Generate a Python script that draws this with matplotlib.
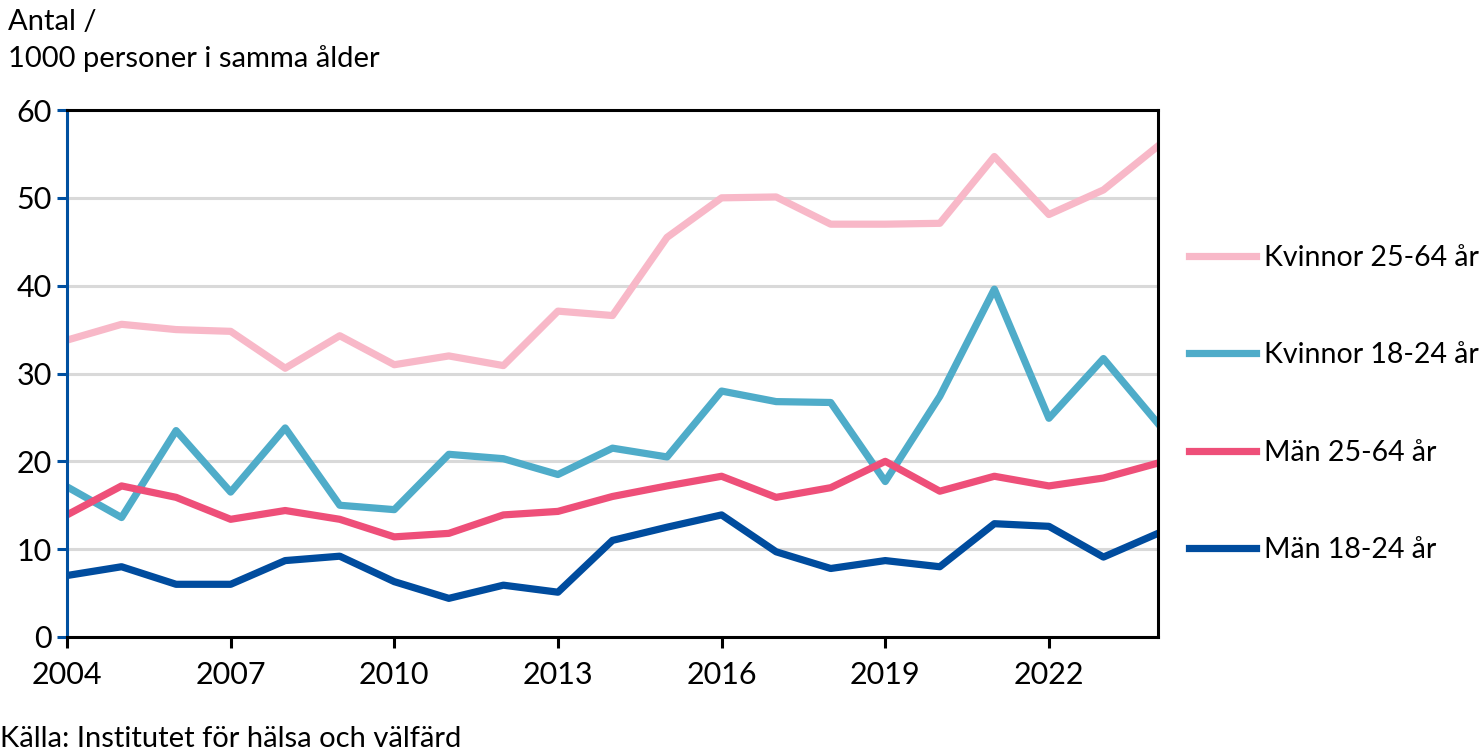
import numpy as np
import matplotlib
matplotlib.use("Agg")
import matplotlib.pyplot as plt

plt.rcParams['font.family'] = ['Lato', 'DejaVu Sans']

YEARS = np.arange(2004, 2025)

# values (antal / 1000 personer i samma ålder)
kvinnor_25_64 = [33.8, 35.6, 35.0, 34.8, 30.6, 34.3, 31.0, 32.0, 30.9, 37.1,
                 36.6, 45.5, 50.0, 50.1, 47.0, 47.0, 47.1, 54.7, 48.1, 50.9, 55.9]
kvinnor_18_24 = [17.1, 13.6, 23.5, 16.5, 23.8, 15.0, 14.5, 20.8, 20.3, 18.5,
                 21.5, 20.5, 28.0, 26.8, 26.7, 17.7, 27.4, 39.6, 24.9, 31.7, 24.3]
man_25_64 = [13.9, 17.2, 15.9, 13.4, 14.4, 13.4, 11.4, 11.8, 13.9, 14.3,
             16.0, 17.2, 18.3, 15.9, 17.0, 20.0, 16.6, 18.3, 17.2, 18.1, 19.8]
man_18_24 = [7.0, 8.0, 6.0, 6.0, 8.7, 9.2, 6.3, 4.4, 5.9, 5.1,
             11.0, 12.5, 13.9, 9.7, 7.8, 8.7, 8.0, 12.9, 12.6, 9.1, 11.8]

SERIES = [
    ("Kvinnor 25-64 år", kvinnor_25_64, "#F8B8C8"),
    ("Kvinnor 18-24 år", kvinnor_18_24, "#4FACC9"),
    ("Män 25-64 år", man_25_64, "#EE4F79"),
    ("Män 18-24 år", man_18_24, "#004C9E"),
]

X_TICKS = np.arange(2004, 2025, 3)
Y_TICKS = np.arange(0, 61, 10)

fig = plt.figure(figsize=(14.84, 7.54), dpi=100)
ax = fig.add_axes([67 / 1484, 1 - 637 / 754, (1158 - 67) / 1484, (637 - 110) / 754])

for label, vals, col in SERIES:
    ax.plot(YEARS, vals, color=col, lw=5.2, label=label, solid_joinstyle='round')

ax.set_xlim(2004, 2024)
ax.set_ylim(0, 60)
ax.set_xticks(X_TICKS)
ax.set_yticks(Y_TICKS)
ax.grid(axis='y', color='#D9D9D9', lw=2.2)
ax.set_axisbelow(True)

for side in ['top', 'right', 'bottom']:
    ax.spines[side].set_color('black')
    ax.spines[side].set_linewidth(2.2)
ax.spines['left'].set_color('#0050A0')
ax.spines['left'].set_linewidth(2.2)

ax.tick_params(axis='x', direction='out', length=8, width=2.2, color='black',
               labelsize=22, pad=9)
ax.tick_params(axis='y', direction='out', length=7, width=2.2, color='#0050A0',
               labelsize=22, pad=4)

ax.legend(loc='upper left', bbox_to_anchor=(1.018, 0.765), frameon=False,
          fontsize=20.5, handlelength=2.35, handletextpad=0.3, labelspacing=2.5,
          borderaxespad=0)

fig.text(8 / 1484, 1 - 9 / 754, "Antal /\n1000 personer i samma ålder",
         ha='left', va='top', fontsize=21, linespacing=1.45)
fig.text(0 / 1484, 1 - 752 / 754, "Källa: Institutet för hälsa och välfärd",
         ha='left', va='bottom', fontsize=21)

fig.savefig("out.png", dpi=100)
